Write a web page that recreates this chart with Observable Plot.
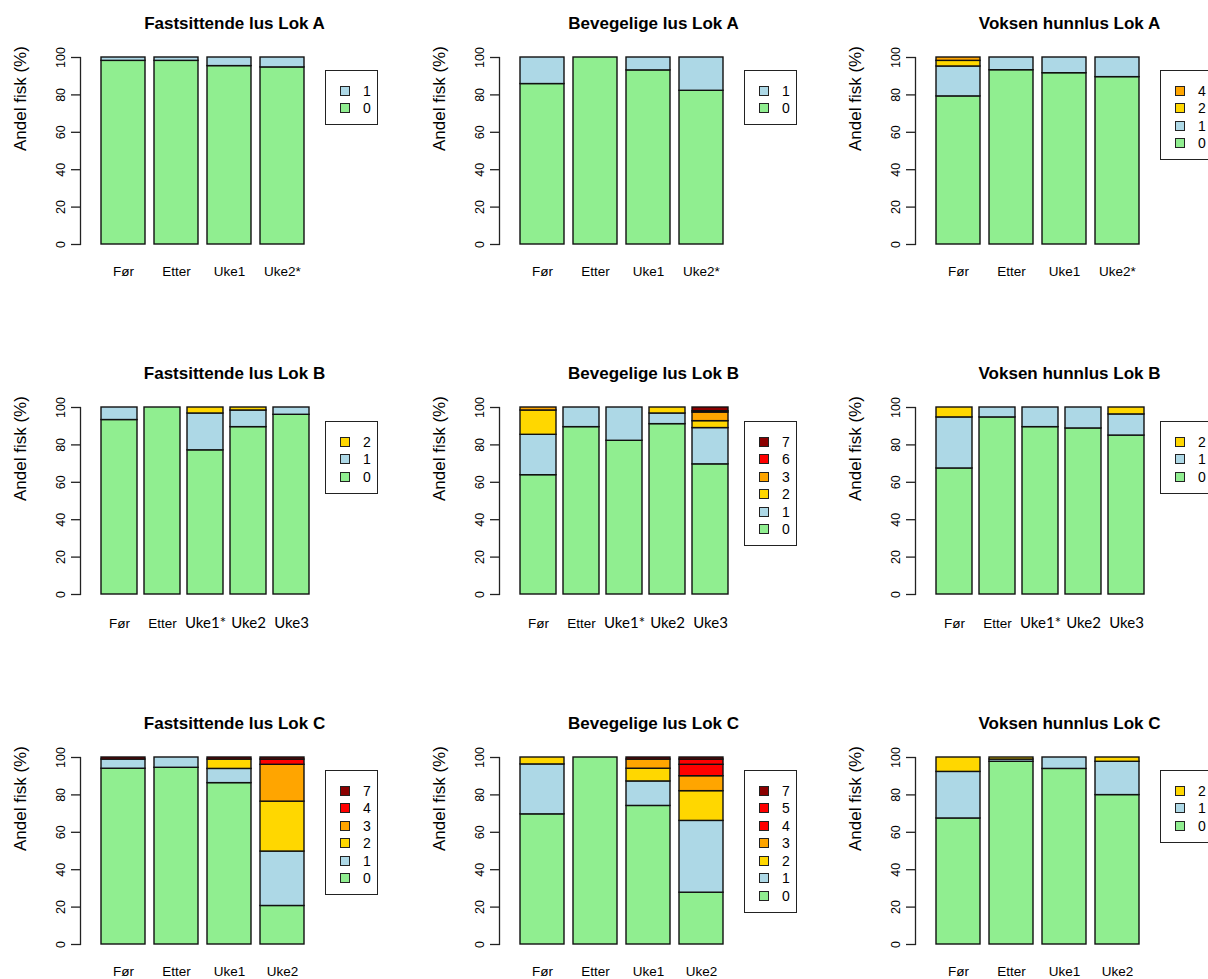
<!DOCTYPE html>
<html><head><meta charset="utf-8">
<script src="https://cdn.jsdelivr.net/npm/d3@7"></script>
<script src="https://cdn.jsdelivr.net/npm/@observablehq/plot@0.6"></script>
<style>
html,body{margin:0;padding:0;background:#fff;overflow:hidden;width:1208px;height:979px}
#root{position:relative;width:1208px;height:979px;overflow:hidden;background:#fff}
.panel{position:absolute;width:420px;height:290px}
.panel svg{position:absolute;left:0;top:0}
.legend{position:absolute;width:53px;box-sizing:border-box;border:1px solid #222;background:#fff;padding:11px 0 7px 0;font-family:"Liberation Sans",Arial,sans-serif;font-size:14px;color:#000}
.legend .row{height:17.5px;display:flex;align-items:center}
.legend .sw{width:10px;height:10px;box-sizing:border-box;border:1px solid #222;margin-left:14px;flex:none}
.legend .lb{margin-left:13px;line-height:1}
</style></head><body><div id="root"></div>
<script>
// ---- data ----
const groupsA = ["Før", "Etter", "Uke1", "Uke2*"];
const groupsB = ["Før", "Etter", "Uke1*", "Uke2", "Uke3"];
const groupsC = ["Før", "Etter", "Uke1", "Uke2"];
const altFontLabelsB = ["Uke1*", "Uke2", "Uke3"];
const yTicks = [0, 20, 40, 60, 80, 100];
const yLabel = "Andel fisk (%)";

const titles = [
  "Fastsittende lus Lok A", "Bevegelige lus Lok A", "Voksen hunnlus Lok A",
  "Fastsittende lus Lok B", "Bevegelige lus Lok B", "Voksen hunnlus Lok B",
  "Fastsittende lus Lok C", "Bevegelige lus Lok C", "Voksen hunnlus Lok C"
];

// categories (number of lice) per panel
const catsFastA = ["0", "1"];
const catsBevA = ["0", "1"];
const catsVoksA = ["0", "1", "2", "4"];
const catsFastB = ["0", "1", "2"];
const catsBevB = ["0", "1", "2", "3", "6", "7"];
const catsVoksB = ["0", "1", "2"];
const catsFastC = ["0", "1", "2", "3", "4", "7"];
const catsBevC = ["0", "1", "2", "3", "4", "5", "7"];
const catsVoksC = ["0", "1", "2"];

// percentages: one row per category, one value per group
const valsFastA = [[98.2, 98.2, 95.4, 94.7], [1.8, 1.8, 4.6, 5.3]];
const valsBevA = [[85.8, 100, 93.1, 82.2], [14.2, 0, 6.9, 17.8]];
const valsVoksA = [[79.2, 93.2, 91.6, 89.5], [16, 6.8, 8.4, 10.5], [3, 0, 0, 0], [1.8, 0, 0, 0]];
const valsFastB = [[93.3, 100, 77.1, 89.5, 96.1], [6.7, 0, 19.7, 8.9, 3.9], [0, 0, 3.2, 1.6, 0]];
const valsBevB = [[63.8, 89.5, 82.2, 91.1, 69.6], [21.6, 10.5, 17.8, 5.7, 19.4], [13, 0, 0, 3.2, 3.7], [1.6, 0, 0, 0, 4.6], [0, 0, 0, 0, 0.7], [0, 0, 0, 0, 2]];
const valsVoksB = [[67.4, 94.7, 89.5, 88.8, 85], [27.3, 5.3, 10.5, 11.2, 11.3], [5.3, 0, 0, 0, 3.7]];
const valsFastC = [[94, 94.5, 86.3, 20.6], [4.9, 5.5, 7.6, 29.1], [0, 0, 5, 26.7], [0, 0, 0, 19.7], [0, 0, 0, 2.8], [1.1, 0, 1.1, 1.1]];
const valsBevC = [[69.6, 100, 74.1, 27.7], [26.7, 0, 13.1, 38.4], [3.7, 0, 6.8, 15.9], [0, 0, 4.9, 8], [0, 0, 0, 6.1], [0, 0, 0, 2.8], [0, 0, 1.1, 1.1]];
const valsVoksC = [[67.4, 97.7, 93.9, 79.9], [24.9, 1.2, 6.1, 17.8], [7.7, 1.1, 0, 2.3]];

// colours per panel, same order as categories
const colFastA = ["lightgreen", "lightblue"];
const colBevA = ["lightgreen", "lightblue"];
const colVoksA = ["lightgreen", "lightblue", "gold", "orange"];
const colFastB = ["lightgreen", "lightblue", "gold"];
const colBevB = ["lightgreen", "lightblue", "gold", "orange", "red", "darkred"];
const colVoksB = ["lightgreen", "lightblue", "gold"];
const colFastC = ["lightgreen", "lightblue", "gold", "orange", "red", "darkred"];
const colBevC = ["lightgreen", "lightblue", "gold", "orange", "red", "red", "darkred"];
const colVoksC = ["lightgreen", "lightblue", "gold"];

const panels = [
  {groups: groupsA, cats: catsFastA, vals: valsFastA, colors: colFastA},
  {groups: groupsA, cats: catsBevA, vals: valsBevA, colors: colBevA},
  {groups: groupsA, cats: catsVoksA, vals: valsVoksA, colors: colVoksA},
  {groups: groupsB, cats: catsFastB, vals: valsFastB, colors: colFastB, alt: altFontLabelsB},
  {groups: groupsB, cats: catsBevB, vals: valsBevB, colors: colBevB, alt: altFontLabelsB},
  {groups: groupsB, cats: catsVoksB, vals: valsVoksB, colors: colVoksB, alt: altFontLabelsB},
  {groups: groupsC, cats: catsFastC, vals: valsFastC, colors: colFastC},
  {groups: groupsC, cats: catsBevC, vals: valsBevC, colors: colBevC},
  {groups: groupsC, cats: catsVoksC, vals: valsVoksC, colors: colVoksC}
];

// ---- layout ----
const COLS = [0, 419, 835];
const ROWS = [0, 350, 700];
const root = document.getElementById("root");

panels.forEach((p, idx) => {
  const r = Math.floor(idx / 3), c = idx % 3;
  const data = [];
  p.cats.forEach((cat, k) => p.groups.forEach((g, i) => {
    const v = p.vals[k][i];
    if (v > 0) data.push({group: g, cat, value: v});
  }));
  const n = p.groups.length;
  const xr = n === 5 ? [99, 310] : [100.5, 303.5];
  const alt = p.alt || [];
  const normalLabels = p.groups.filter(g => !alt.includes(g));
  const altLabels = p.groups.filter(g => alt.includes(g));
  const labelPad = r === 1 ? 24 : 22;

  const marks = [
    Plot.barY(data, {x: "group", y: "value", fill: "cat", stroke: "#111", strokeWidth: 1.4}),
    Plot.frame({anchor: "left", stroke: "#222", strokeWidth: 1.3}),
    Plot.axisY(yTicks, {tickSize: 9, tickRotate: -90, tickPadding: 7, fontSize: 12.5, tickFormat: d => String(d), label: null, stroke: "#222", strokeWidth: 1.3}),
    Plot.axisX(normalLabels, {tickSize: 0, tickPadding: labelPad, fontSize: 13.5, label: null}),
    Plot.text([titles[idx]], {text: d => d, frameAnchor: "top", dy: -41, fontWeight: "bold", fontSize: 17}),
    Plot.text([yLabel], {text: d => d, frameAnchor: "left", rotate: -90, dx: -60, fontSize: 17})
  ];
  if (altLabels.length) {
    marks.push(Plot.axisX(altLabels, {tickSize: 0, tickPadding: labelPad - 1, fontSize: 15, fontFamily: "Lato", label: null}));
  }

  const chart = Plot.plot({
    width: 420,
    height: 290,
    marginLeft: 80,
    marginRight: 32,
    marginTop: 57,
    marginBottom: 46,
    style: {fontFamily: "'Liberation Sans', Arial, sans-serif", fontSize: "12px", color: "#000", background: "transparent", overflow: "visible"},
    x: {type: "band", domain: p.groups, range: xr, paddingInner: 0.17, paddingOuter: 0},
    y: {domain: [0, 100]},
    color: {type: "ordinal", domain: p.cats, range: p.colors},
    marks
  });

  const div = document.createElement("div");
  div.className = "panel";
  div.style.left = COLS[c] + "px";
  div.style.top = ROWS[r] + "px";
  div.appendChild(chart);

  const leg = document.createElement("div");
  leg.className = "legend";
  leg.style.left = "325px";
  leg.style.top = (r === 1 ? 71 : 70) + "px";
  p.cats.slice().reverse().forEach((cat) => {
    const k = p.cats.indexOf(cat);
    const row = document.createElement("div");
    row.className = "row";
    const sw = document.createElement("div");
    sw.className = "sw";
    sw.style.background = p.colors[k];
    const lb = document.createElement("span");
    lb.className = "lb";
    lb.textContent = cat;
    row.appendChild(sw); row.appendChild(lb);
    leg.appendChild(row);
  });
  div.appendChild(leg);
  root.appendChild(div);
});
</script>
</body></html>
